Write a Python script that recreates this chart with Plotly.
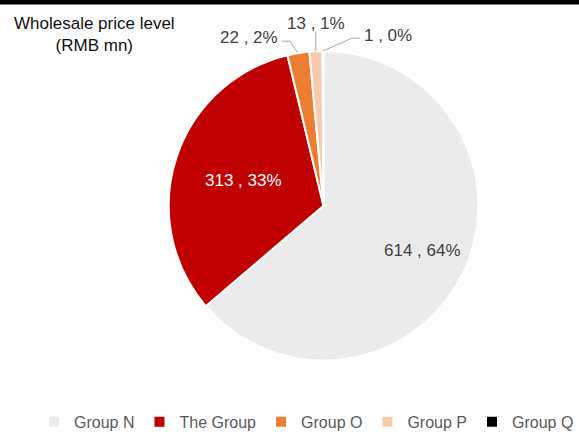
import math
import plotly.graph_objects as go

labels = ["Group N", "The Group", "Group O", "Group P", "Group Q"]
values = [614, 313, 22, 13, 1]
colors = ["#EBEBEB", "#C00000", "#ED7D31", "#F8CBAD", "#000000"]
text_colors = ["#404040", "#FFFFFF", "#404040", "#404040", "#404040"]

W, H = 579, 439
CX, CY, R = 323.5, 210.0, 158.0  # pie centre / radius in pixels

total = sum(values)
texts = [f"{v} , {round(v / total * 100)}%" for v in values]

def px(x):
    return x / W

def py(y):
    return 1 - y / H

fig = go.Figure(go.Pie(
    labels=labels,
    values=values,
    textinfo="none",
    marker=dict(colors=colors, line=dict(color="#FFFFFF", width=2)),
    sort=False,
    direction="clockwise",
    rotation=0,
    domain=dict(x=[px(CX - R), px(CX + R)], y=[py(CY + R), py(CY - R)]),
    hoverinfo="label+value+percent",
))

# mid-angle of every slice (clockwise from 12 o'clock)
mids = []
cum = 0
for v in values:
    mids.append(2 * math.pi * (cum + v / 2) / total)
    cum += v

def point(angle, r):
    return CX + r * math.sin(angle), CY - r * math.cos(angle)

FONT = "Liberation Sans, Arial"
annotations = []
shapes = []

# inside labels for the two large slices
inside_r = [0.69, 0.53]
for i in range(2):
    x, y = point(mids[i], R * inside_r[i])
    annotations.append(dict(text=texts[i], x=px(x), y=py(y), xref="paper", yref="paper",
                            showarrow=False, xanchor="center", yanchor="middle",
                            font=dict(family=FONT, size=17, color=text_colors[i])))

# outside labels with elbow leader lines for the small slices
# (elbow dx, elbow dy, end dx, end dy, text anchor, text dx, text dy) relative to slice edge
leader = {
    2: (-8, -12, -16, -12, "right", -18, -16),
    3: (0, -10, 0, -20, "center", 0, -28),
    4: (29, -13, 37, -13, "left", 39, -16),
}
for i, (edx, edy, ndx, ndy, anchor, tdx, tdy) in leader.items():
    ex, ey = point(mids[i], R)
    path = (f"M {px(ex)},{py(ey)} L {px(ex + edx)},{py(ey + edy)} "
            f"L {px(ex + ndx)},{py(ey + ndy)}")
    shapes.append(dict(type="path", xref="paper", yref="paper", path=path,
                       line=dict(color="#A6A6A6", width=1)))
    annotations.append(dict(text=texts[i], x=px(ex + tdx), y=py(ey + tdy), xref="paper", yref="paper",
                            showarrow=False, xanchor=anchor, yanchor="middle",
                            font=dict(family=FONT, size=17, color=text_colors[i])))

annotations.append(dict(text="Wholesale price level<br>(RMB mn)", x=px(94), y=py(35),
                        xref="paper", yref="paper", showarrow=False,
                        xanchor="center", yanchor="middle",
                        font=dict(family=FONT, size=17, color="#111111")))

# black rule along the top edge
shapes.append(dict(type="rect", xref="paper", yref="paper", x0=0, x1=1, y0=py(4.5), y1=1,
                   fillcolor="black", line=dict(width=0), layer="above"))

fig.update_layout(
    width=W, height=H,
    margin=dict(l=0, r=0, t=0, b=0),
    paper_bgcolor="white",
    showlegend=True,
    legend=dict(orientation="h", x=1, xanchor="right", y=py(448), yanchor="bottom",
                font=dict(family=FONT, size=16, color="#595959"),
                traceorder="normal", itemwidth=30),
    annotations=annotations,
    shapes=shapes,
)
fig.write_html("out.html", config={"displayModeBar": False},
               post_script="document.body.style.margin='0';")
